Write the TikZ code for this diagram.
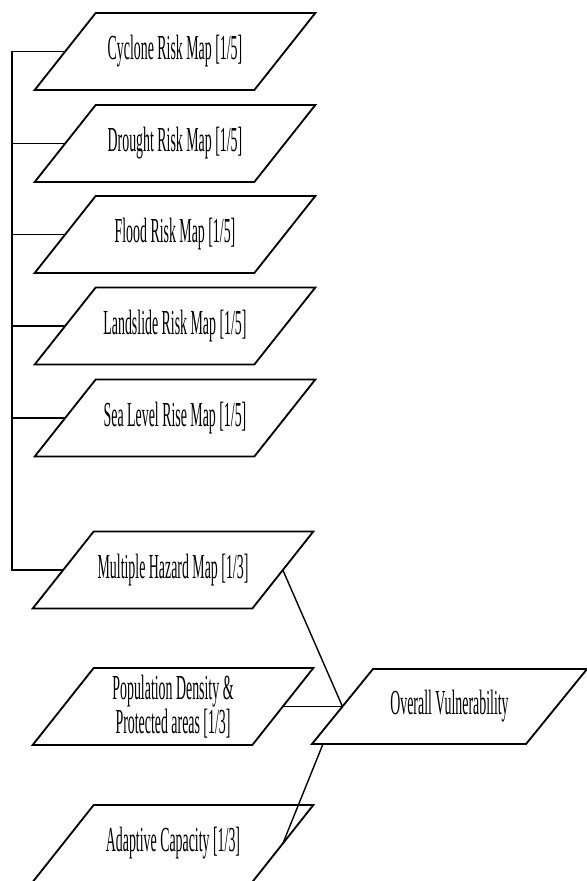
\documentclass[tikz,border=0pt]{standalone}
\usepackage{fontspec}
\setmainfont{Liberation Serif}[FakeStretch=0.395]
\usepackage{tikz}
\usetikzlibrary{calc, positioning}

\begin{document}
\begin{tikzpicture}[x=0.025cm, y=-0.025cm,
		mapbox/.style={minimum width=5.49cm, minimum height=1.925cm, inner sep=0pt, outer sep=0pt, align=center, font=\fontsize{25}{21}\selectfont},
		boxline/.style={line width=1.3pt, line join=miter},
		link/.style={line width=1pt}]
			\useasboundingbox (0,0) rectangle (586,881);
			
			\node[mapbox] (cyclone) at (175,51.5) {Cyclone Risk Map [1/5]};
			\node[mapbox] (drought) at (175,143.5) {Drought Risk Map [1/5]};
			\node[mapbox] (flood) at (175,234.5) {Flood Risk Map [1/5]};
			\node[mapbox] (landslide) at (175,326) {Landslide Risk Map [1/5]};
			\node[mapbox] (sealevel) at (175,418) {Sea Level Rise Map [1/5]};
			\node[mapbox] (hazard) at (173,570) {Multiple Hazard Map [1/3]};
			\node[mapbox] (popdens) at (173,706.5) {Population Density \&\\Protected areas [1/3]};
			\node[mapbox] (adaptive) at (173,843.5) {Adaptive Capacity [1/3]};
			\node[mapbox, minimum width=5.35cm, minimum height=1.875cm] (overall) at (449.5,706.5) {Overall Vulnerability};
			
			\foreach \n in {cyclone, drought, flood, landslide, sealevel, hazard, popdens, adaptive, overall}
				\draw[boxline] ($(\n.south west)+(-30.5,0)$) -- ($(\n.north west)+(30.5,0)$) -- ($(\n.north east)+(30.5,0)$) -- ($(\n.south east)+(-30.5,0)$) -- cycle;
			
			\coordinate (bar) at (12,0);
			\coordinate (ovfoot) at ($(overall.south west)+(-19.5,0)$);
			
			\draw[link] (cyclone.west) -- (cyclone.west -| bar) -- (hazard.west -| bar) -- (hazard.west);
			\foreach \src in {drought, flood, landslide, sealevel}
				\draw[link] (\src.west) -- (\src.west -| bar);
			
			\draw[link] (hazard.east) -- (overall.west);
			\draw[link] (popdens.east) -- (overall.west);
			\draw[link] (adaptive.east) -- (ovfoot);
			
		\end{tikzpicture}
\end{document}
